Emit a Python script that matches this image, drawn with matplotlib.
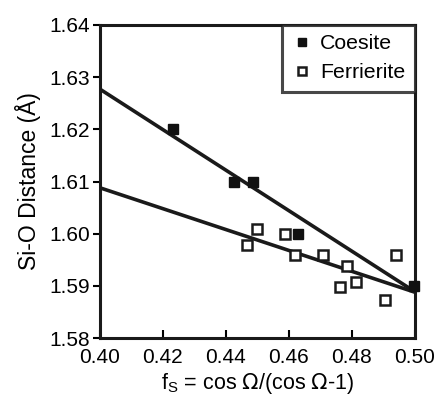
import numpy as np
import matplotlib.pyplot as plt

plt.rcParams['font.family'] = ['Liberation Sans', 'DejaVu Sans']

# data
coesite_x = [0.4232, 0.4425, 0.4486, 0.4629, 0.4997]
coesite_y = [1.620, 1.610, 1.610, 1.600, 1.590]

ferr_x = [0.4466, 0.4498, 0.4589, 0.4619, 0.4708, 0.4762, 0.4785, 0.4814, 0.4907, 0.4939]
ferr_y = [1.5979, 1.6009, 1.5999, 1.5959, 1.5959, 1.5898, 1.5939, 1.5908, 1.5873, 1.5959]

# fitted lines, end values at x = 0.40 and 0.50
fit_x = [0.40, 0.50]
coesite_fit = [1.6277, 1.5889]
ferr_fit = [1.6088, 1.5888]

xticks = [0.40, 0.42, 0.44, 0.46, 0.48, 0.50]
yticks = [1.58, 1.59, 1.60, 1.61, 1.62, 1.63, 1.64]

fig = plt.figure(figsize=(4.38, 3.95), dpi=100)
ax = fig.add_axes([0.228, 0.144, 0.719, 0.793])

ax.plot(fit_x, coesite_fit, color='#1a1a1a', lw=2.6, solid_capstyle='butt')
ax.plot(fit_x, ferr_fit, color='#1a1a1a', lw=2.6, solid_capstyle='butt')

ax.plot(coesite_x, coesite_y, 's', ms=7.5, color='#111111', ls='none',
        label='Coesite', clip_on=False, zorder=4)
ax.plot(ferr_x, ferr_y, 's', ms=7.5, mfc='white', mec='#1a1a1a', mew=1.8,
        ls='none', label='Ferrierite', zorder=4)

ax.set_xlim(0.40, 0.50)
ax.set_ylim(1.58, 1.64)
ax.set_xticks(xticks)
ax.set_yticks(yticks)
ax.set_xticklabels(['%.2f' % v for v in xticks])
ax.set_yticklabels(['%.2f' % v for v in yticks])
ax.tick_params(axis='x', direction='in', length=6, width=1.5, labelsize=15, pad=7)
ax.tick_params(axis='y', direction='out', length=5, width=1.5, labelsize=15, pad=2)
for s in ax.spines.values():
    s.set_linewidth(2.2)
    s.set_color('#1a1a1a')

ax.set_xlabel(r'f$_\mathregular{S}$ = cos $\Omega$/(cos $\Omega$-1)', fontsize=15.5, labelpad=3)
ax.set_ylabel('Si-O Distance (Å)', fontsize=16.5, labelpad=6)

leg = ax.legend(loc='upper right', fontsize=15.3, frameon=True, fancybox=False,
                borderaxespad=0, handletextpad=0.35, handlelength=1.0,
                borderpad=0.45, labelspacing=0.45, markerscale=0.75)
leg.get_frame().set_edgecolor('#1a1a1a')
leg.get_frame().set_linewidth(2.2)

fig.savefig('out.png', dpi=100)
